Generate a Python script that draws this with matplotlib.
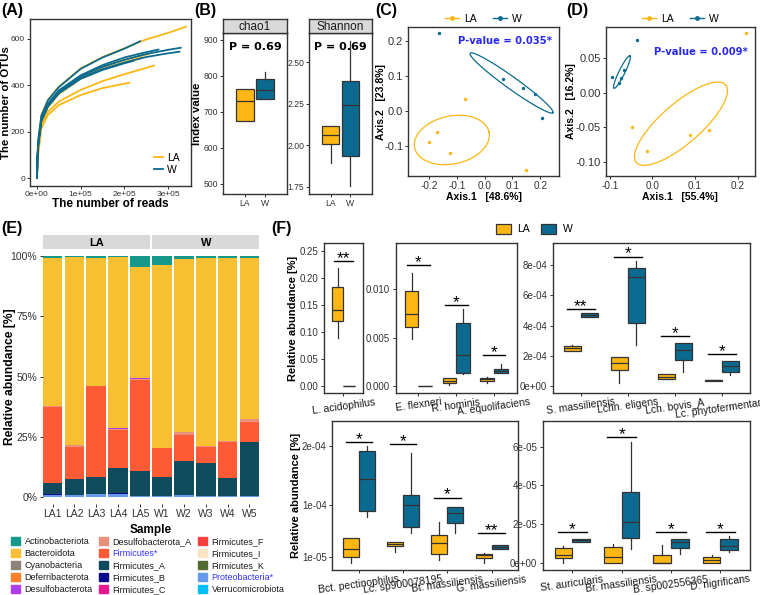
import numpy as np
import matplotlib.pyplot as plt
from matplotlib.patches import Patch
from matplotlib.lines import Line2D

plt.rcParams['font.family'] = ['Liberation Sans', 'DejaVu Sans']

W_PX, H_PX = 760, 595
LA_COL = '#FDB714'
W_COL = '#0B6A8F'
EDGE = '#333333'
TXT = '#333333'

# ---------------- data ----------------
# (A) rarefaction curves, (reads, OTUs)
rare_la = [
    ([0, 1e3, 3e3, 1e4, 2.5e4, 5e4, 1e5, 1.5e5, 2e5, 2.5e5, 3e5, 3.41e5],
     [0, 95, 170, 272, 337, 394, 473, 522, 560, 598, 626, 653]),
    ([0, 1e3, 3e3, 1e4, 2.5e4, 5e4, 1e5, 1.5e5, 2e5, 2.55e5],
     [0, 75, 140, 245, 312, 370, 436, 478, 510, 534]),
    ([0, 1e3, 3e3, 1e4, 2.5e4, 5e4, 1e5, 1.5e5, 2e5, 2.5e5, 2.68e5],
     [0, 60, 115, 229, 286, 330, 380, 418, 448, 475, 485]),
    ([0, 1e3, 3e3, 1e4, 2.5e4, 5e4, 1e5, 1.5e5, 2e5, 2.11e5],
     [0, 55, 105, 214, 272, 315, 358, 388, 407, 411]),
    ([0, 1e3, 3e3, 1e4, 2.5e4, 5e4, 1e5, 1.5e5, 2e5, 2.4e5],
     [0, 70, 135, 240, 305, 362, 428, 470, 500, 520]),
]
rare_w = [
    ([0, 1e3, 3e3, 1e4, 2.5e4, 5e4, 1e5, 1.5e5, 2e5, 2.36e5],
     [0, 90, 165, 268, 335, 392, 471, 520, 558, 590]),
    ([0, 1e3, 3e3, 1e4, 2.5e4, 5e4, 1e5, 1.5e5, 2e5, 2.5e5, 3e5, 3.29e5],
     [0, 85, 150, 252, 317, 375, 440, 480, 510, 535, 553, 562]),
    ([0, 1e3, 3e3, 1e4, 2.5e4, 5e4, 1e5, 1.5e5, 2e5, 2.5e5, 3e5, 3.26e5],
     [0, 80, 145, 248, 312, 370, 432, 470, 498, 522, 538, 545]),
    ([0, 1e3, 3e3, 1e4, 2.5e4, 5e4, 1e5, 1.5e5, 2e5, 2.5e5, 2.78e5],
     [0, 85, 150, 255, 320, 378, 443, 487, 520, 543, 554]),
    ([0, 1e3, 3e3, 1e4, 2.5e4, 5e4, 1e5, 1.5e5, 2e5, 2.2e5],
     [0, 80, 140, 245, 308, 365, 428, 466, 495, 505]),
]

# (B) alpha diversity: whislo, q1, med, q3, whishi
chao1_la = [676, 676, 729, 763, 763]
chao1_w = [736, 736, 761, 792, 811]
shannon_la = [1.893, 2.007, 2.064, 2.118, 2.118]
shannon_w = [1.754, 1.933, 2.241, 2.385, 2.625]

# (C) PCoA 1
c_la_x = [-0.07, -0.172, -0.2, -0.124, 0.148]
c_la_y = [0.035, -0.061, -0.088, -0.119, -0.169]
c_w_x = [-0.163, 0.068, 0.138, 0.18, 0.206]
c_w_y = [0.223, 0.091, 0.067, 0.049, -0.02]
# ellipse: centre, semi-axis vectors
c_ell_la = [(-0.118, -0.083), (0.134, 0.0226), (-0.018, 0.067)]
c_ell_w = [(0.097, 0.08), (0.149, -0.085), (-0.0126, -0.014)]

# (D) PCoA 2
d_la_x = [0.221, -0.047, -0.012, 0.088, 0.134]
d_la_y = [0.0867, -0.0497, -0.085, -0.062, -0.0547]
d_w_x = [-0.0373, -0.0946, -0.0749, -0.0664, -0.0789]
d_w_y = [0.0769, 0.0228, 0.0219, 0.033, 0.0136]
d_ell_la = [(0.067, -0.045), (0.105, 0.0564), (-0.0307, 0.0221)]
d_ell_w = [(-0.0718, 0.030), (0.0188, 0.0236), (-0.0063, 0.0019)]

# (E) phylum composition (%)
samples_la = ['LA1', 'LA2', 'LA3', 'LA4', 'LA5']
samples_w = ['W1', 'W2', 'W3', 'W4', 'W5']
phyla = ['Actinobacteriota', 'Bacteroidota', 'Cyanobacteria', 'Deferribacterota',
         'Desulfobacterota', 'Desulfobacterota_A', 'Firmicutes*', 'Firmicutes_A',
         'Firmicutes_B', 'Firmicutes_C', 'Firmicutes_F', 'Firmicutes_I',
         'Firmicutes_K', 'Proteobacteria*', 'Verrucomicrobiota']
phyla_colors = ['#16998B', '#F9BF33', '#8C8378', '#F7812B', '#AE3DEB', '#E8917C',
                '#FF5A36', '#0F4A5D', '#0A0A8C', '#E8178F', '#F53F3F', '#FDE3C6',
                '#526B2E', '#6699EE', '#00BFFF']
actino = [0.6, 0.3, 0.9, 0.4, 4.4, 3.7, 1.4, 0.7, 0.7, 0.7]
bactero = [61.6, 78.0, 53.0, 71.0, 46.3, 75.7, 71.4, 78.0, 76.0, 66.8]
cyano = [0, 0, 0, 0, 0, 0, 0, 0, 0, 0]
deferri = [0, 0, 0, 0, 0, 0, 0, 0, 0, 0]
desulfo = [0.1, 0.1, 0.0, 0.1, 0.3, 0.0, 0.1, 0.0, 0.0, 0.1]
desulfo_a = [0.3, 0.8, 0.1, 0.7, 0.3, 0.2, 1.4, 0.5, 0.4, 1.0]
firm = [31.4, 13.4, 37.4, 15.5, 37.7, 12.1, 10.6, 6.4, 14.8, 8.4]
firm_a = [4.7, 6.5, 7.1, 10.7, 10.3, 7.6, 14.2, 13.7, 7.4, 22.3]
firm_b = [0.2, 0.1, 0.3, 0.1, 0.1, 0.3, 0.1, 0.3, 0.3, 0.2]
firm_c = [0, 0, 0, 0, 0, 0, 0, 0, 0, 0]
firm_f = [0, 0, 0, 0, 0, 0, 0, 0, 0, 0]
firm_i = [0, 0, 0, 0, 0, 0, 0, 0, 0, 0]
firm_k = [0, 0, 0, 0, 0, 0, 0, 0, 0, 0]
proteo = [1.1, 0.8, 1.2, 1.5, 0.6, 0.4, 0.8, 0.4, 0.4, 0.5]
verruco = [0, 0, 0, 0, 0, 0, 0, 0, 0, 0]

# (F) differential species: whislo, q1, med, q3, whishi
f1_names = ['L. acidophilus']
f1_la = [[0.089, 0.12, 0.14, 0.182, 0.218]]
f1_w = [[0, 0, 0, 0, 0]]
f1_sig = ['**']
f1_sig_y = [0.23]

f2_names = ['E. flexneri', 'R. hominis', 'A. equolifaciens']
f2_la = [[0.00483, 0.00614, 0.00745, 0.00986, 0.01172],
         [0.0001, 0.00028, 0.0005, 0.00082, 0.00088],
         [0.00028, 0.00048, 0.00069, 0.00083, 0.00097]]
f2_w = [[0, 0, 0, 0, 0],
        [0.00124, 0.00138, 0.00317, 0.00655, 0.00793],
        [0.00131, 0.00131, 0.00159, 0.00179, 0.00228]]
f2_sig = ['*', '*', '*']
f2_sig_y = [0.01248, 0.00838, 0.0032]

f3_names = ['S. massiliensis', 'Lchn. eligens', 'Lch. bovis_A', 'Lc. phytofermentans']
f3_la = [[2.3e-4, 2.32e-4, 2.5e-4, 2.65e-4, 2.72e-4],
         [1.8e-5, 1.06e-4, 1.5e-4, 1.95e-4, 1.95e-4],
         [4.5e-5, 4.9e-5, 6.2e-5, 8.2e-5, 8.2e-5],
         [3.3e-5, 3.5e-5, 3.8e-5, 4.0e-5, 4.0e-5]]
f3_w = [[4.55e-4, 4.55e-4, 4.69e-4, 4.82e-4, 4.82e-4],
        [2.72e-4, 4.15e-4, 7.25e-4, 7.82e-4, 8.29e-4],
        [9.5e-5, 1.72e-4, 2.39e-4, 2.87e-4, 2.87e-4],
        [7.3e-5, 9.3e-5, 1.35e-4, 1.68e-4, 1.68e-4]]
f3_sig = ['**', '*', '*', '*']
f3_sig_y = [5.1e-4, 8.57e-4, 3.29e-4, 2.1e-4]

f4_names = ['Bct. pectinophilus', 'Lc. sp900078195', 'Bt. massiliensis', 'G. massiliensis']
f4_la = [[9e-7, 1.11e-5, 2.42e-5, 4.24e-5, 4.24e-5],
         [1.97e-5, 2.93e-5, 3.27e-5, 3.6e-5, 3.6e-5],
         [5.5e-6, 1.57e-5, 3.5e-5, 4.8e-5, 7.08e-5],
         [9e-7, 8.3e-6, 1.34e-5, 1.57e-5, 1.7e-5]]
f4_w = [[7.8e-5, 8.95e-5, 1.43e-4, 1.91e-4, 2.0e-4],
        [5.1e-5, 6.23e-5, 9.86e-5, 1.17e-4, 1.88e-4],
        [5.1e-5, 6.9e-5, 8.6e-5, 9.64e-5, 9.64e-5],
        [2.48e-5, 2.48e-5, 2.8e-5, 3.05e-5, 3.05e-5]]
f4_sig = ['*', '*', '*', '**']
f4_sig_y = [2.07e-4, 2.03e-4, 1.12e-4, 5.1e-5]

f5_names = ['St. auricularis', 'Br. massiliensis', 'B. sp002556365', 'D. nigrificans']
f5_la = [[2e-7, 2.8e-6, 4.1e-6, 7.6e-6, 8.9e-6],
         [0, 0, 2.9e-6, 8.3e-6, 9.6e-6],
         [0, 0, 0, 4.1e-6, 9.3e-6],
         [0, 0, 1.5e-6, 3.3e-6, 4.3e-6]]
f5_w = [[1.08e-5, 1.08e-5, 1.19e-5, 1.26e-5, 1.26e-5],
        [7.2e-6, 1.27e-5, 2.1e-5, 3.65e-5, 6.23e-5],
        [4.5e-6, 7.6e-6, 1.1e-5, 1.26e-5, 1.26e-5],
        [5.8e-6, 6.9e-6, 8.8e-6, 1.26e-5, 1.41e-5]]
f5_sig = ['*', '*', '*', '*']
f5_sig_y = [1.6e-5, 6.5e-5, 1.6e-5, 1.6e-5]


# ---------------- helpers ----------------
fig = plt.figure(figsize=(W_PX / 100, H_PX / 100), dpi=100)


def ax_px(l, t, r, b):
    return fig.add_axes([l / W_PX, 1 - b / H_PX, (r - l) / W_PX, (b - t) / H_PX])


def frame(ax, size=6.5, pad=1.5):
    for s in ax.spines.values():
        s.set_color(EDGE)
        s.set_linewidth(1.0)
    ax.tick_params(length=2.5, width=0.7, color=EDGE, labelsize=size,
                   labelcolor=TXT, pad=pad)


def ylab(ax, s, x_px, size=8):
    # place the y label centre at a given figure pixel column
    l = ax.get_position().x0 * W_PX
    w = ax.get_position().width * W_PX
    ax.set_ylabel(s, fontsize=size, fontweight='bold', va='center')
    ax.yaxis.set_label_coords((x_px - l) / w, 0.5)


def xlab(ax, s, y_px, size=8):
    b = (1 - ax.get_position().y0) * H_PX
    h = ax.get_position().height * H_PX
    ax.set_xlabel(s, fontsize=size, fontweight='bold', va='center')
    ax.xaxis.set_label_coords(0.5, (b - y_px) / h)


def panel_label(x, y, s):
    fig.text(x / W_PX, 1 - y / H_PX, s, fontsize=11.5, fontweight='bold',
             va='center', ha='left')


def to_stats(v):
    return dict(whislo=v[0], q1=v[1], med=v[2], q3=v[3], whishi=v[4], fliers=[])


def draw_boxes(ax, la, wd, centers, off=0.18, width=0.36):
    stats, pos, cols = [], [], []
    for c, a, b in zip(centers, la, wd):
        stats += [to_stats(a), to_stats(b)]
        pos += [c - off, c + off]
        cols += [LA_COL, W_COL]
    res = ax.bxp(stats, positions=pos, widths=width, patch_artist=True,
                 showfliers=False, showcaps=False, manage_ticks=False,
                 boxprops=dict(edgecolor=EDGE, linewidth=0.9),
                 medianprops=dict(color=EDGE, linewidth=0.9),
                 whiskerprops=dict(color=EDGE, linewidth=0.9))
    for bx, c in zip(res['boxes'], cols):
        bx.set_facecolor(c)


def draw_ellipse(ax, ell, color):
    (cx, cy), (ux, uy), (vx, vy) = ell
    t = np.linspace(0, 2 * np.pi, 200)
    ax.plot(cx + ux * np.cos(t) + vx * np.sin(t),
            cy + uy * np.cos(t) + vy * np.sin(t), color=color, lw=0.9)


def f_panel(ax, names, la, wd, sig, sig_y, ylim, yticks, ylabels):
    n = len(names)
    centers = np.arange(1, n + 1)
    draw_boxes(ax, la, wd, centers)
    for c, s, y in zip(centers, sig, sig_y):
        ax.plot([c - 0.3, c + 0.3], [y, y], color='black', lw=1.0)
        ax.annotate(s, (c, y), xytext=(0, -3.5), textcoords='offset points',
                    ha='center', va='bottom', fontsize=12.5)
    ax.set_xlim(0.4, n + 0.6)
    ax.set_ylim(*ylim)
    ax.set_yticks(yticks)
    ax.set_yticklabels(ylabels)
    ax.set_xticks(centers)
    ax.set_xticklabels(names, rotation=8, ha='center')
    frame(ax, size=7)
    ax.tick_params(axis='x', labelsize=7.5, labelcolor='#1A1A1A', pad=0.5)


# ---------------- (A) ----------------
axA = ax_px(30, 19, 191, 186)
for xs, ys in rare_la:
    axA.plot(xs, ys, color=LA_COL, lw=1.3)
for xs, ys in rare_w:
    axA.plot(xs, ys, color=W_COL, lw=1.3)
axA.set_xlim(-1.6e4, 3.524e5)
axA.set_ylim(-34.5, 686)
axA.set_xticks([0, 1e5, 2e5, 3e5])
axA.set_xticklabels(['0e+00', '1e+05', '2e+05', '3e+05'])
axA.set_yticks([0, 200, 400, 600])
frame(axA, size=6, pad=1)
xlab(axA, 'The number of reads', 204, 8.5)
ylab(axA, 'The number of OTUs', 6.5, 8.2)
axA.legend(handles=[Line2D([0], [0], color=LA_COL, lw=1.3),
                    Line2D([0], [0], color=W_COL, lw=1.3)],
           labels=['LA', 'W'], loc='lower right', bbox_to_anchor=(0.99, 0.01),
           frameon=False, fontsize=7.5, handlelength=0.9, handletextpad=0.4,
           labelspacing=0.2)
panel_label(1, 11, '(A)')

# ---------------- (B) ----------------
for (l, r), name, la_v, w_v, ylim, yt, ytl in [
        ((223, 287), 'chao1', chao1_la, chao1_w, (472, 919),
         [500, 600, 700, 800, 900], ['500', '600', '700', '800', '900']),
        ((309, 372), 'Shannon', shannon_la, shannon_w, (1.708, 2.674),
         [1.75, 2.0, 2.25, 2.5], ['1.75', '2.00', '2.25', '2.50'])]:
    ax = ax_px(l, 33, r, 194)
    draw_boxes(ax, [la_v], [w_v], [1.0], off=0.19, width=0.34)
    ax.set_xlim(0.4, 1.6)
    ax.set_ylim(*ylim)
    ax.set_yticks(yt)
    ax.set_yticklabels(ytl)
    ax.set_xticks([0.81, 1.19])
    ax.set_xticklabels(['LA', 'W'])
    frame(ax, size=6.2, pad=1)
    ax.text(0.5, 0.915, 'P = 0.69', transform=ax.transAxes, ha='center',
            va='center', fontsize=8, fontweight='bold', family='DejaVu Sans')
    st = ax_px(l, 19, r, 33)
    st.set_facecolor('#D9D9D9')
    st.set_xticks([])
    st.set_yticks([])
    for s in st.spines.values():
        s.set_color(EDGE)
        s.set_linewidth(1.0)
    st.text(0.5, 0.45, name, ha='center', va='center', fontsize=8.5, color='#1A1A1A')
    if name == 'chao1':
        ylab(ax, 'Index value', 197.5, 8.2)
panel_label(194, 11, '(B)')

# ---------------- (C) and (D) ----------------
for (l, r), lx, ly, wx, wy, el_la, el_w, xlim, ylim, xt, xtl, yt, ytl, xl, yl, ylx, pv, ptx, pty, lab, labx in [
        ((408, 559), c_la_x, c_la_y, c_w_x, c_w_y, c_ell_la, c_ell_w,
         (-0.276, 0.268), (-0.186, 0.24),
         [-0.2, -0.1, 0.0, 0.1, 0.2], ['-0.2', '-0.1', '0.0', '0.1', '0.2'],
         [-0.1, 0.0, 0.1, 0.2], ['-0.1', '0.0', '0.1', '0.2'],
         'Axis.1   [48.6%]', 'Axis.2   [23.8%]', 380.5, 'P-value = 0.035*', 0.955, 0.908,
         '(C)', 375),
        ((605.7, 755), d_la_x, d_la_y, d_w_x, d_w_y, d_ell_la, d_ell_w,
         (-0.110, 0.241), (-0.121, 0.0955),
         [-0.1, 0.0, 0.1, 0.2], ['-0.1', '0.0', '0.1', '0.2'],
         [-0.10, -0.05, 0.0, 0.05], ['-0.10', '-0.05', '0.00', '0.05'],
         'Axis.1   [55.4%]', 'Axis.2   [16.2%]', 571, 'P-value = 0.009*', 0.955, 0.829,
         '(D)', 566)]:
    ax = ax_px(l, 27, r, 176)
    ax.scatter(lx, ly, s=6, color=LA_COL, zorder=3, linewidths=0)
    ax.scatter(wx, wy, s=6, color=W_COL, zorder=3, linewidths=0)
    draw_ellipse(ax, el_la, LA_COL)
    draw_ellipse(ax, el_w, W_COL)
    ax.set_xlim(*xlim)
    ax.set_ylim(*ylim)
    ax.set_xticks(xt)
    ax.set_xticklabels(xtl)
    ax.set_yticks(yt)
    ax.set_yticklabels(ytl)
    frame(ax, size=7.2, pad=1)
    ax.tick_params(axis='y', labelsize=8)
    xlab(ax, xl, 197, 7.5)
    ylab(ax, yl, ylx, 7.5)
    ax.text(ptx, pty, pv, transform=ax.transAxes, ha='right', va='center',
            fontsize=7.2, fontweight='bold', color='#2A2AEE', family='DejaVu Sans')
    ax.legend(handles=[Line2D([0], [0], color=LA_COL, marker='o', ms=2.5, lw=1.0),
                       Line2D([0], [0], color=W_COL, marker='o', ms=2.5, lw=1.0)],
              labels=['LA', 'W'], loc='lower center', bbox_to_anchor=(0.5, 1.0),
              ncol=2, frameon=False, fontsize=7.5, handlelength=1.3,
              handletextpad=0.5, columnspacing=1.6, borderaxespad=0.1,
              borderpad=0.2)
    panel_label(labx, 11, lab)

# ---------------- (E) ----------------
comp = [actino, bactero, cyano, deferri, desulfo, desulfo_a, firm, firm_a,
        firm_b, firm_c, firm_f, firm_i, firm_k, proteo, verruco]
for k, (l, r, names, title) in enumerate([(42.7, 150, samples_la, 'LA'),
                                           (152.3, 259.3, samples_w, 'W')]):
    ax = ax_px(l, 249.3, r, 503.6)
    xs = np.arange(1, 6)
    bottom = np.zeros(5)
    for vals, col in zip(comp[::-1], phyla_colors[::-1]):
        v = np.array(vals[k * 5:(k + 1) * 5], dtype=float)
        ax.bar(xs, v, width=0.9, bottom=bottom, color=col, linewidth=0)
        bottom += v
    ax.set_xlim(0.55, 5.45)
    ax.set_ylim(-2.6, 102.8)
    ax.set_xticks(xs)
    ax.set_xticklabels(names)
    for s in ax.spines.values():
        s.set_visible(False)
    ax.tick_params(length=2.5, width=0.7, color=EDGE, labelsize=7.5,
                   labelcolor=TXT, pad=1.5)
    if k == 0:
        ax.set_yticks([0, 25, 50, 75, 100])
        ax.set_yticklabels(['0%', '25%', '50%', '75%', '100%'])
        ylab(ax, 'Relative abundance [%]', 10, 8.7)
    else:
        ax.set_yticks([])
    st = ax_px(l, 235, r, 249.3)
    st.set_facecolor('#D9D9D9')
    st.set_xticks([])
    st.set_yticks([])
    for s in st.spines.values():
        s.set_visible(False)
    st.text(0.5, 0.45, title, ha='center', va='center', fontsize=8,
            fontweight='bold')
fig.text(151 / W_PX, 1 - 530 / H_PX, 'Sample', ha='center', va='center',
         fontsize=8.5, fontweight='bold')
leg = fig.legend(handles=[Patch(color=c) for c in phyla_colors], labels=phyla,
                 loc='upper left', bbox_to_anchor=(11 / W_PX, 1 - 537 / H_PX),
                 ncol=3, frameon=False, fontsize=6.5, handlelength=1.0,
                 handleheight=1.05, handletextpad=0.5, columnspacing=0.7,
                 labelspacing=0.3, borderpad=0, borderaxespad=0)
for t in leg.get_texts():
    t.set_color('#1A1A1A')
    if t.get_text().endswith('*'):
        t.set_color('#3333FF')
panel_label(1, 228, '(E)')

# ---------------- (F) ----------------
axF1 = ax_px(324, 243.3, 362.7, 392.7)
f_panel(axF1, f1_names, f1_la, f1_w, f1_sig, f1_sig_y, (-0.013, 0.2637),
        [0, 0.05, 0.10, 0.15, 0.20, 0.25],
        ['0.00', '0.05', '0.10', '0.15', '0.20', '0.25'])
ylab(axF1, 'Relative abundance [%]', 293, 8)

axF2 = ax_px(395.7, 243.3, 516.7, 392.7)
f_panel(axF2, f2_names, f2_la, f2_w, f2_sig, f2_sig_y, (-0.00069, 0.01476),
        [0, 0.005, 0.010], ['0.000', '0.005', '0.010'])

axF3 = ax_px(552.7, 243.3, 750, 392.7)
f_panel(axF3, f3_names, f3_la, f3_w, f3_sig, f3_sig_y, (-4.44e-5, 9.457e-4),
        [0, 2e-4, 4e-4, 6e-4, 8e-4], ['0e+00', '2e-04', '4e-04', '6e-04', '8e-04'])

axF4 = ax_px(332.3, 420.7, 518.3, 570)
f_panel(axF4, f4_names, f4_la, f4_w, f4_sig, f4_sig_y, (-1.16e-5, 2.43e-4),
        [1e-5, 1e-4, 2e-4], ['1e-05', '1e-04', '2e-04'])
ylab(axF4, 'Relative abundance [%]', 296, 8)

axF5 = ax_px(542.7, 420.7, 750, 570)
f_panel(axF5, f5_names, f5_la, f5_w, f5_sig, f5_sig_y, (-3.6e-6, 7.34e-5),
        [0, 2e-5, 4e-5, 6e-5], ['0e+00', '2e-05', '4e-05', '6e-05'])

fig.legend(handles=[Patch(facecolor=LA_COL, edgecolor=EDGE, linewidth=0.9),
                    Patch(facecolor=W_COL, edgecolor=EDGE, linewidth=0.9)],
           labels=['LA', 'W'], loc='center', bbox_to_anchor=(534 / W_PX, 1 - 229 / H_PX),
           ncol=2, frameon=False, fontsize=7.5, handlelength=1.45, handleheight=1.15,
           handletextpad=0.6, columnspacing=1.1)
panel_label(271, 228, '(F)')

fig.savefig('out.png', dpi=100)
